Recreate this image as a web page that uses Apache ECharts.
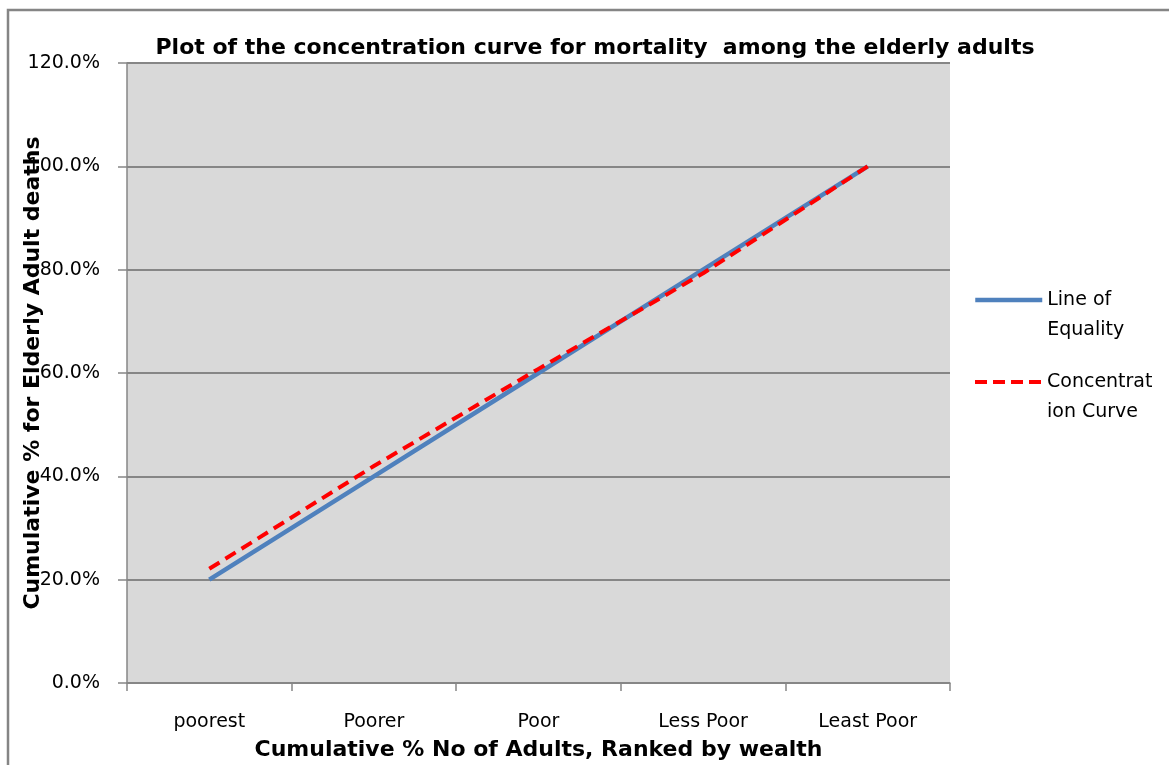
<!DOCTYPE html>
<html>
<head>
<meta charset="utf-8">
<title>Concentration curve for mortality among the elderly adults</title>
<script src="https://cdn.jsdelivr.net/npm/echarts@6/dist/echarts.min.js"></script>
<style>
  html, body { margin: 0; padding: 0; background: #ffffff; }
  #chart { width: 1169px; height: 765px; }
</style>
</head>
<body>
<div id="chart"></div>
<script>
// Wealth quintiles (x axis categories)
const categories = ['poorest', 'Poorer', 'Poor', 'Less Poor', 'Least Poor'];

// Cumulative % of elderly adult deaths
const equalityValues = [20, 40, 60, 80, 100];
const concentrationValues = [22.1, 42.0, 60.8, 79.3, 100];

// Y axis range (percent)
const yMin = 0;
const yMax = 120;
const yStep = 20;

const seriesNames = ['Line of Equality', 'Concentration Curve'];
// Legend text is wrapped in the narrow legend column; the leading blank line
// keeps the first text line level with the legend line sample.
const legendLabels = {
  'Line of Equality': ' \nLine of\nEquality',
  'Concentration Curve': ' \nConcentrat\nion Curve'
};

const FONT = 'DejaVu Sans';
const chart = echarts.init(document.getElementById('chart'), null, { renderer: 'canvas' });

function legendFor(name, top, lineStyle) {
  return {
    data: [name],
    orient: 'vertical',
    left: 973,
    top: top,
    padding: 0,
    itemWidth: 67,
    itemHeight: 14,
    selectedMode: false,
    itemStyle: { opacity: 0 },
    lineStyle: lineStyle,
    formatter: n => legendLabels[n],
    textStyle: {
      fontFamily: FONT,
      fontSize: 19,
      color: '#000',
      lineHeight: 30
    }
  };
}

chart.setOption({
  animation: false,
  backgroundColor: '#ffffff',
  title: {
    text: 'Plot of the concentration curve for mortality  among the elderly adults',
    left: 590,
    top: 32,
    textAlign: 'center',
    textStyle: { fontFamily: FONT, fontWeight: 'bold', fontSize: 22, color: '#000' }
  },
  legend: [
    legendFor(seriesNames[0], 255, { color: '#4f81bd', width: 4.5, type: 'solid' }),
    legendFor(seriesNames[1], 337, { color: '#ff0000', width: 4, type: [12, 6] })
  ],
  grid: {
    left: 127,
    right: 219,
    top: 63,
    bottom: 82,
    show: true,
    backgroundColor: '#d9d9d9',
    borderWidth: 0,
    outerBoundsMode: 'none'
  },
  xAxis: {
    type: 'category',
    data: categories,
    boundaryGap: true,
    name: 'Cumulative % No of Adults, Ranked by wealth',
    nameLocation: 'middle',
    nameGap: 56,
    nameMoveOverlap: false,
    nameTextStyle: { fontFamily: FONT, fontWeight: 'bold', fontSize: 22, color: '#000' },
    axisLine: { lineStyle: { color: '#868686', width: 1.5 } },
    axisTick: { show: true, length: 8, inside: false, lineStyle: { color: '#868686', width: 1.5 } },
    axisLabel: { margin: 30, fontFamily: FONT, fontSize: 19, color: '#000' },
    splitLine: { show: false }
  },
  yAxis: {
    type: 'value',
    min: yMin,
    max: yMax,
    interval: yStep,
    name: 'Cumulative % for Elderly Adult deaths',
    nameLocation: 'middle',
    nameRotate: 90,
    nameGap: 83,
    nameMoveOverlap: false,
    nameTextStyle: { fontFamily: FONT, fontWeight: 'bold', fontSize: 22, color: '#000' },
    axisLine: { show: true, lineStyle: { color: '#868686', width: 1.5 } },
    axisTick: { show: true, length: 9, lineStyle: { color: '#868686', width: 1.5 } },
    axisLabel: {
      margin: 27,
      fontFamily: FONT,
      fontSize: 19,
      color: '#000',
      formatter: v => v.toFixed(1) + '%'
    },
    splitLine: { show: true, lineStyle: { color: '#868686', width: 2 } }
  },
  series: [
    {
      name: seriesNames[0],
      type: 'line',
      data: equalityValues,
      symbol: 'none',
      lineStyle: { color: '#4f81bd', width: 4.5 },
      itemStyle: { color: '#4f81bd' },
      z: 2
    },
    {
      name: seriesNames[1],
      type: 'line',
      data: concentrationValues,
      symbol: 'none',
      lineStyle: { color: '#ff0000', width: 4, type: [12, 7] },
      itemStyle: { color: '#ff0000' },
      z: 3
    }
  ],
  graphic: [
    {
      type: 'rect',
      silent: true,
      shape: { x: 8, y: 10, width: 1300, height: 900 },
      style: { fill: null, stroke: '#858585', lineWidth: 2.5 },
      z: -1
    }
  ]
});
</script>
</body>
</html>
